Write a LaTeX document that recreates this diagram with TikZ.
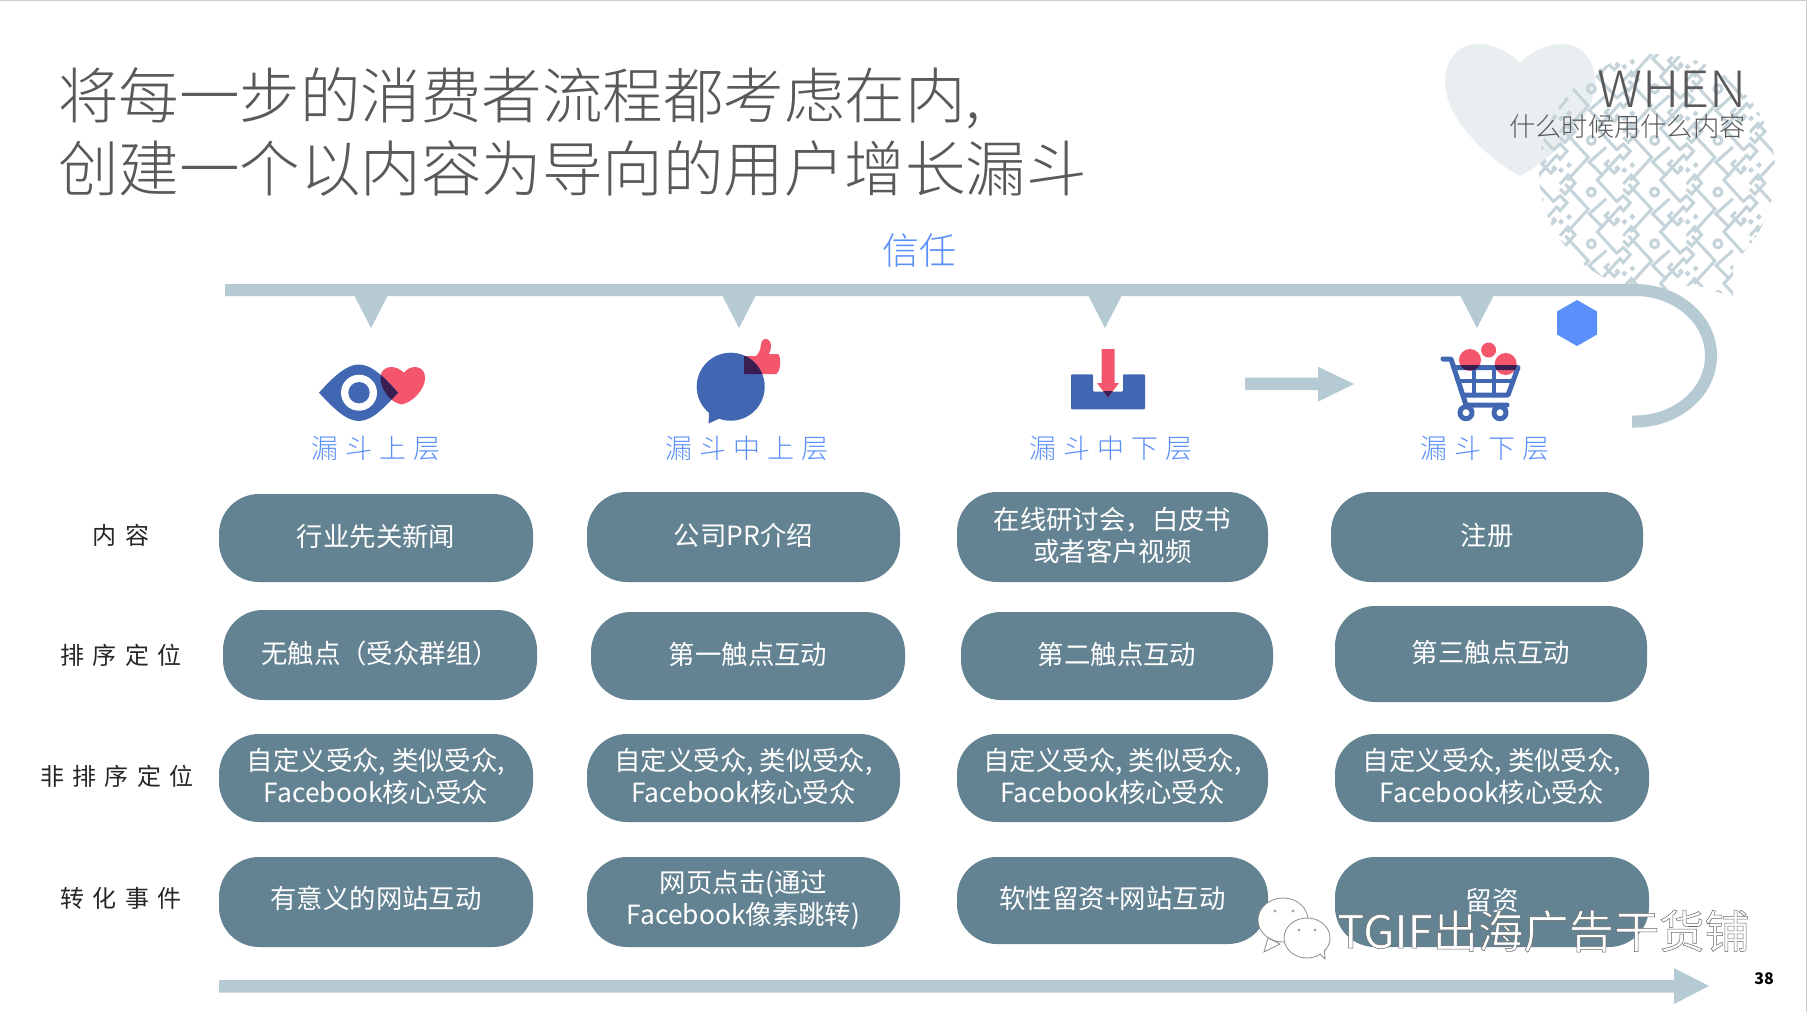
\documentclass[tikz,border=0pt]{standalone}
\usepackage{fontspec}
\setmainfont{Noto Sans CJK SC}
\newfontfamily\thinf{Noto Sans CJK SC Light}
\newfontfamily\whenf{Noto Sans CJK SC Light}[FakeStretch=1.05]
\newfontfamily\spaced{Noto Sans CJK SC}[LetterSpace=35]
\newfontfamily\spacedl{Noto Sans CJK SC Light}[LetterSpace=26]
\definecolor{bar}{HTML}{B5CAD2}
\definecolor{pillc}{HTML}{648392}
\definecolor{blu}{HTML}{5B8FF9}
\definecolor{ico}{HTML}{4267B2}
\definecolor{rd}{HTML}{F4566E}
\definecolor{dk}{HTML}{3A1E52}
\definecolor{pat}{HTML}{C5D3DA}
\definecolor{hrt}{HTML}{E9EEF1}
\definecolor{txt}{HTML}{595959}
\tikzset{
 pilltext/.style={text=white,align=center,inner sep=0pt,font=\fontsize{26.4}{32}\selectfont},
 stage/.style={text=blu,inner sep=0pt,font=\spacedl\fontsize{27}{30}\selectfont},
 rowlab/.style={text=black!85,inner sep=0pt,font=\spaced\fontsize{24}{30}\selectfont},
 ps/.style={pat,line width=3pt},
}
\newcommand{\pillnode}[6][-2]{%
 \pgfmathsetmacro{\cx}{(#3+#5)/2}\pgfmathsetmacro{\cy}{(#4+#6)/2+#1}%
 \fill[pillc,rounded corners=40pt] (#3,#4) rectangle (#5,#6);%
 \pillnext{#2}}
\newcommand{\pillnext}[2]{\node[pilltext] (#1) at (\cx,\cy) {#2};}
\newcommand{\tile}[2]{%
 \begin{scope}[shift={(#1,#2)}]
  \draw[ps] (0,0) circle (4);
  \draw[ps] (28,-36) -- (6,-12) -- (26,10);
  \draw[ps] (-26,-8) -- (-3,17) -- (-24,40);
  \draw[ps] (15,-45) -- (-2,-30) -- (12,-16);
  \draw[ps] (25,-42) -- (32,-48) -- (39,-41) -- (32,-33) -- (28,-38);
  \draw[ps] (18,-32) -- (14,-28) -- (23,-19) -- (28,-24);
  \draw[ps] (32,-8) -- (40,-17) -- (47,-9) -- (37,2) -- (32,-3);
  \fill[pat] (23,-24) -- (26,-27) -- (29,-24) -- (26,-21) -- cycle;
  \fill[pat] (30,-22) -- (33,-25) -- (36,-22) -- (33,-19) -- cycle;
  \fill[pat] (38,-27) -- (41,-30) -- (44,-27) -- (41,-24) -- cycle;
 \end{scope}}
\begin{document}
\begin{tikzpicture}[x=1pt,y=-1pt]
\useasboundingbox (0,0) rectangle (1808,1012);
\fill[white] (0,0) rectangle (1808,1012);
\draw[black!20,line width=1.5pt] (0,0.5) -- (1806.5,0.5) -- (1806.5,1012);
% heart
\fill[hrt] (1520,63) .. controls (1505,48) and (1490,44) .. (1478,44) .. controls (1458,44) and (1445,60) .. (1445,82) .. controls (1445,120) and (1490,160) .. (1520,176) .. controls (1550,160) and (1595,120) .. (1595,82) .. controls (1595,60) and (1582,44) .. (1562,44) .. controls (1550,44) and (1535,48) .. (1520,63) -- cycle;
% patterned bubble
\begin{scope}
 \clip (1657,172) circle (118) (1680,280) -- (1733,262) -- (1733,297) -- cycle;
 \foreach \i in {0,...,4}{\foreach \j in {0,...,5}{
   \pgfmathsetmacro{\tx}{1528+63.3*\i}\pgfmathsetmacro{\ty}{37+51.7*\j}
   \tile{\tx}{\ty}}}
\end{scope}
% title
\node[anchor=west,align=left,text=txt,inner sep=0pt,font=\thinf\fontsize{60.5}{72.5}\selectfont] (title) at (58,132) {将每一步的消费者流程都考虑在内,\\创建一个以内容为导向的用户增长漏斗};
\node[anchor=east,text=txt,inner sep=0pt,font=\whenf\fontsize{50}{50}\selectfont] (when) at (1747,89) {WHEN};
\node[anchor=east,text=txt,inner sep=0pt,font=\thinf\fontsize{26.3}{30}\selectfont] (whensub) at (1746,127) {什么时候用什么内容};
\node[text=blu,inner sep=0pt,font=\thinf\fontsize{37}{40}\selectfont] (trust) at (919,250) {信任};
% top bar
\draw[bar,line width=12pt] (225,290) -- (1635,290) arc[start angle=-90,end angle=90,x radius=76,y radius=65.75] -- (1632,421.5);
\foreach \x in {371,739,1105,1477}{\fill[bar] (\x-17,295) -- (\x+17,295) -- (\x,328) -- cycle;}
% hexagon
\fill[blu] (1577,300) -- (1597,311.5) -- (1597,334.5) -- (1577,346) -- (1557,334.5) -- (1557,311.5) -- cycle;
% eye icon
\def\eyepath{(319,392.7) .. controls (335,375) and (347,364.5) .. (359,364.5) .. controls (372,364.5) and (385,378) .. (398,392.7) .. controls (385,407) and (372,421) .. (359,421) .. controls (347,421) and (335,410) .. (319,392.7) -- cycle}
\def\hrtpath{(404,372.7) .. controls (396,365) and (385,365) .. (381,373.6) .. controls (378,386.7) and (390,403.4) .. (402,404.4) .. controls (412,402.5) and (426,389.4) .. (425,376.4) .. controls (424,365) and (410,364.3) .. (404,372.7) -- cycle}
\fill[rd] \hrtpath;
\fill[ico] \eyepath;
\begin{scope}\clip \eyepath; \fill[dk] \hrtpath; \end{scope}
\fill[white] (359,392.7) circle (18);
\fill[ico] (359,392.7) circle (10.7);
% bubble icon
\def\thumbpath{(744,356) -- (756,356) .. controls (762,350) and (760,345) .. (762,341) .. controls (764,337) and (771,339) .. (771,345) .. controls (771,349) and (770,352) .. (769,354) -- (778,354) .. controls (781,356) and (781,368) .. (778,372) -- (776,374) -- (744,374) -- cycle}
\fill[rd] \thumbpath;
\fill[ico] (730.7,386.7) circle (34);
\fill[ico] (709,410) -- (708.6,423.5) -- (725,416) -- cycle;
\begin{scope}\clip (730.7,386.7) circle (34); \fill[dk] \thumbpath; \end{scope}
% tray icon
\fill[ico,rounded corners=1pt] (1071,374.3) -- (1093,374.3) -- (1093,391.7) -- (1123,391.7) -- (1123,374.3) -- (1145,374.3) -- (1145,409.3) -- (1071,409.3) -- cycle;
\def\arrpath{(1101.5,349) -- (1114.5,349) -- (1114.5,383) -- (1119,383) -- (1108,397.3) -- (1097,383) -- (1101.5,383) -- cycle}
\fill[rd] \arrpath;
\begin{scope}\clip (1060,391.7) rectangle (1150,420); \fill[dk] \arrpath; \end{scope}
% big arrow between
\fill[bar] (1245,377.7) -- (1318,377.7) -- (1318,366.7) -- (1354,384) -- (1318,401.7) -- (1318,390) -- (1245,390) -- cycle;
% cart icon
\fill[rd] (1470,360) circle (11) (1488.6,350) circle (7.5) (1505.7,364) circle (11);
\begin{scope}[ico,line cap=round,line join=round]
 \draw[line width=5pt] (1443,359) -- (1451,359) -- (1466,405) -- (1507,405);
 \draw[line width=5pt] (1455,367.5) -- (1518,367.5) -- (1508,395) -- (1463,395);
 \draw[line width=4.5pt] (1459,381) -- (1513,381);
 \draw[line width=4.5pt] (1474,368) -- (1474,395) (1494,368) -- (1494,395);
 \draw[line width=5pt] (1466,412.7) circle (6) (1500,412.7) circle (6);
\end{scope}
\begin{scope}\clip (1470,360) circle (11) (1488.6,350) circle (7.5) (1505.7,364) circle (11); \fill[dk] (1450,365) rectangle (1525,370); \end{scope}
% stage labels
\node[stage] (s1) at (376,448) {漏斗上层};
\node[stage] (s2) at (747,448) {漏斗中上层};
\node[stage] (s3) at (1111,448) {漏斗中下层};
\node[stage] (s4) at (1485,448) {漏斗下层};
% row labels
\node[rowlab] (r1) at (121,535) {内容};
\node[rowlab] (r2) at (121,655) {排序定位};
\node[rowlab] (r3) at (117,776) {非排序定位};
\node[rowlab] (r4) at (121,898) {转化事件};
% pills
\pillnode{a1}{219}{494}{533}{582}{行业先关新闻}
\pillnode{a2}{587}{492}{900}{582}{公司PR介绍}
\pillnode{a3}{957}{492}{1268}{582}{在线研讨会，白皮书\\或者客户视频}
\pillnode{a4}{1331}{492}{1643}{582}{注册}
\pillnode{b1}{223}{610}{537}{700}{无触点（受众群组）}
\pillnode{b2}{591}{612}{905}{700}{第一触点互动}
\pillnode{b3}{961}{612}{1273}{700}{第二触点互动}
\pillnode{b4}{1335}{606}{1647}{702}{第三触点互动}
\pillnode{c1}{219}{734}{533}{822}{自定义受众, 类似受众,\\Facebook核心受众}
\pillnode{c2}{587}{734}{900}{822}{自定义受众, 类似受众,\\Facebook核心受众}
\pillnode{c3}{957}{734}{1268}{822}{自定义受众, 类似受众,\\Facebook核心受众}
\pillnode{c4}{1335}{734}{1649}{822}{自定义受众, 类似受众,\\Facebook核心受众}
\pillnode[-4]{d1}{219}{857}{533}{947}{有意义的网站互动}
\pillnode{d2}{587}{857}{900}{947}{网页点击(通过\\Facebook像素跳转)}
\pillnode{d3}{957}{857}{1268}{944}{软性留资+网站互动}
\pillnode{d4}{1335}{857}{1649}{947}{留资}
% bottom arrow
\fill[bar] (219,980) -- (1674,980) -- (1674,968) -- (1709,986) -- (1674,1004) -- (1674,992.5) -- (219,992.5) -- cycle;
% wechat watermark
\begin{scope}[draw=black!45,fill=white,line width=0.8pt]
 \filldraw (1283,920) ellipse (25 and 22);
 \filldraw (1268,938) -- (1264,952) -- (1280,944) -- cycle;
 \fill[white] (1283,920) ellipse (24 and 21);
 \fill[black!35] (1275,911) circle (1.6) (1293,911) circle (1.6);
 \filldraw (1307,938) ellipse (23 and 20);
 \filldraw (1318,952) -- (1325,959) -- (1324,946) -- cycle;
 \fill[white] (1307,938) ellipse (22 and 19);
 \fill[black!35] (1299,930) circle (1.6) (1315,930) circle (1.6);
\end{scope}
\node[anchor=west,inner sep=0pt,text=white,font=\fontsize{45.3}{50}\selectfont] (wm) at (1337,931) {\special{pdf:code q 2 Tr 0.5 w 0.4 0.4 0.4 RG 1 1 1 rg}TGIF出海广告干货铺\special{pdf:code Q}};
% page number
\node[text=black,inner sep=0pt,font=\bfseries\fontsize{16}{18}\selectfont] (pg) at (1764,979) {38};
\end{tikzpicture}
\end{document}
